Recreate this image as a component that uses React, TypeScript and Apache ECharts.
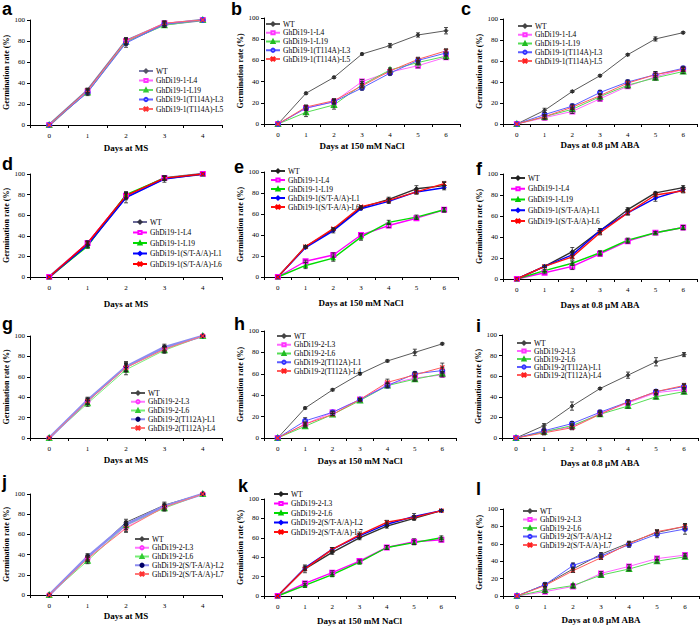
import React, { useEffect, useRef } from 'react';
import * as echarts from 'echarts';

// ---------- categories / tick labels ----------
const daysMS = ['0', '1', '2', '3', '4'];
const daysStress = ['0', '1', '2', '3', '4', '5', '6'];
const yTicks = [0, 20, 40, 60, 80, 100];

// ---------- series names ----------
const namesT114A = ['WT', 'GhDi19-1-L4', 'GhDi19-1-L19', 'GhDi19-1(T114A)-L3', 'GhDi19-1(T114A)-L5'];
const names1AA = ['WT', 'GhDi19-1-L4', 'GhDi19-1-L19', 'GhDi19-1(S/T-A/A)-L1', 'GhDi19-1(S/T-A/A)-L6'];
const namesT112A = ['WT', 'GhDi19-2-L3', 'GhDi19-2-L6', 'GhDi19-2(T112A)-L1', 'GhDi19-2(T112A)-L4'];
const names2AA = ['WT', 'GhDi19-2-L3', 'GhDi19-2-L6', 'GhDi19-2(S/T-A/A)-L2', 'GhDi19-2(S/T-A/A)-L7'];

const titleMS = 'Days at MS';
const titleNaCl = 'Days at 150 mM NaCl';
const titleABA = 'Days at 0.8 μM ABA';
const yTitle = 'Germination rate (%)';

// ---------- values (germination rate %, one row per series) ----------
const aRates = [
  [0, 33, 80, 96, 100],
  [0, 32, 80, 97, 100],
  [0, 31, 79, 95, 100],
  [0, 31, 78, 96, 100],
  [0, 33, 80, 97, 100],
];
const aErrs = [[0, 2, 3, 2, 0], [0, 2, 3, 2, 0], [0, 2, 3, 2, 0], [0, 3, 4, 3, 0], [0, 2, 3, 2, 0]];

const bRates = [
  [0, 29, 44, 66, 74, 84, 88],
  [0, 15, 21, 40, 49, 55, 63],
  [0, 11, 18, 37, 51, 58, 64],
  [0, 15, 21, 34, 48, 60, 67],
  [0, 16, 22, 36, 50, 61, 69],
];
const bErrs = [[0, 1, 1, 1, 2, 2, 3], [0, 2, 2, 2, 2, 2, 2], [0, 4, 4, 3, 2, 2, 3], [0, 2, 2, 2, 2, 2, 3], [0, 2, 2, 2, 2, 2, 2]];

const cRates = [
  [0, 13, 31, 46, 66, 81, 87],
  [0, 6, 12, 24, 36, 45, 52],
  [0, 7, 14, 26, 37, 44, 50],
  [0, 9, 17, 30, 40, 47, 53],
  [0, 7, 16, 27, 39, 47, 52],
];
const cErrs = [[0, 2, 1, 1, 1, 2, 1], [0, 2, 2, 2, 2, 3, 2], [0, 2, 2, 2, 2, 2, 2], [0, 2, 2, 2, 2, 3, 2], [0, 2, 2, 2, 2, 3, 2]];

const dRates = [
  [0, 32, 78, 96, 100],
  [0, 33, 79, 96, 100],
  [0, 30, 80, 96, 100],
  [0, 31, 77, 95, 100],
  [0, 33, 79, 96, 100],
];
const dErrs = [[0, 2, 3, 2, 0], [0, 2, 3, 2, 0], [0, 2, 3, 2, 0], [0, 2, 5, 3, 0], [0, 2, 3, 2, 0]];

const eRates = [
  [0, 29, 45, 66, 74, 84, 87],
  [0, 15, 21, 40, 49, 56, 64],
  [0, 11, 18, 38, 52, 57, 64],
  [0, 28, 44, 65, 72, 81, 85],
  [0, 29, 46, 67, 73, 81, 89],
];
const eErrs = [[0, 1, 1, 1, 2, 3, 3], [0, 1, 2, 1, 2, 1, 2], [0, 3, 3, 3, 2, 2, 2], [0, 1, 2, 1, 2, 2, 2], [0, 1, 1, 1, 2, 2, 2]];

const fRates = [
  [0, 12, 26, 46, 66, 82, 87],
  [0, 6, 12, 24, 36, 44, 49],
  [0, 8, 15, 25, 37, 44, 49],
  [0, 12, 23, 46, 63, 77, 85],
  [0, 12, 21, 44, 63, 80, 84],
];
const fErrs = [[0, 1, 4, 2, 2, 1, 2], [0, 1, 3, 2, 2, 1, 2], [0, 1, 2, 2, 2, 1, 2], [0, 1, 3, 2, 2, 3, 2], [0, 1, 3, 2, 2, 1, 2]];

const gRates = [
  [0, 36, 70, 88, 100],
  [0, 36, 69, 87, 100],
  [0, 34, 67, 86, 100],
  [0, 37, 70, 89, 100],
  [0, 36, 69, 87, 100],
];
const gErrs = [[0, 3, 5, 3, 0], [0, 3, 4, 3, 0], [0, 3, 5, 3, 0], [0, 3, 4, 3, 0], [0, 3, 4, 3, 0]];

const hRates = [
  [0, 28, 45, 60, 72, 80, 88],
  [0, 13, 24, 36, 50, 56, 59],
  [0, 11, 22, 35, 49, 55, 60],
  [0, 16, 24, 36, 49, 60, 63],
  [0, 13, 22, 36, 52, 59, 66],
];
const hErrs = [[0, 1, 1, 1, 1, 3, 1], [0, 2, 1, 1, 2, 2, 2], [0, 1, 1, 1, 2, 2, 2], [0, 3, 1, 1, 2, 2, 3], [0, 1, 1, 1, 3, 2, 4]];

const iRates = [
  [0, 12, 31, 48, 61, 74, 81],
  [0, 6, 11, 24, 34, 44, 47],
  [0, 6, 12, 23, 31, 40, 45],
  [0, 7, 14, 25, 35, 45, 50],
  [0, 5, 10, 23, 35, 45, 51],
];
const iErrs = [[0, 2, 4, 1, 3, 4, 2], [0, 2, 2, 2, 2, 2, 2], [0, 2, 2, 2, 2, 2, 2], [0, 2, 2, 2, 2, 2, 2], [0, 2, 2, 2, 2, 2, 2]];

const jRates = [
  [0, 37, 72, 89, 100],
  [0, 36, 67, 87, 100],
  [0, 34, 69, 86, 100],
  [0, 38, 70, 88, 100],
  [0, 36, 66, 87, 100],
];
const jErrs = [[0, 3, 3, 3, 0], [0, 3, 4, 3, 0], [0, 3, 4, 3, 0], [0, 3, 3, 3, 0], [0, 3, 4, 3, 0]];

const kRates = [
  [0, 28, 45, 60, 72, 80, 88],
  [0, 13, 24, 36, 50, 56, 58],
  [0, 11, 22, 35, 50, 55, 60],
  [0, 29, 48, 62, 74, 82, 88],
  [0, 28, 48, 63, 76, 81, 88],
];
const kErrs = [[0, 2, 2, 2, 2, 2, 1], [0, 2, 2, 1, 2, 3, 2], [0, 2, 2, 2, 2, 2, 2], [0, 2, 2, 2, 2, 3, 1], [0, 4, 2, 3, 2, 2, 1]];

const lRates = [
  [0, 13, 31, 48, 61, 73, 80],
  [0, 5, 11, 26, 34, 43, 47],
  [0, 7, 12, 24, 31, 40, 45],
  [0, 13, 35, 46, 59, 71, 77],
  [0, 12, 29, 44, 60, 74, 80],
];
const lErrs = [[0, 2, 2, 2, 2, 3, 3], [0, 2, 2, 2, 2, 2, 2], [0, 2, 2, 2, 2, 2, 2], [0, 2, 3, 2, 3, 4, 6], [0, 2, 2, 2, 2, 2, 3]];

// ---------- styles ----------
const X_SYMBOL = 'path://M0,1L1,0L5,4L9,0L10,1L6,5L10,9L9,10L5,6L1,10L0,9L4,5Z';
const SERIF = '"Liberation Serif", "Times New Roman", serif';

const palSoft = {
  line: ['#5a5a5a', '#ff66ff', '#55dd55', '#5c5cff', '#ff5c5c'],
  marker: ['#444444', '#ff33ff', '#22bb22', '#3333ff', '#ff2222'],
  width: [1, 1, 1, 1, 1],
  symbol: ['diamond', 'emptyRect', 'emptyTriangle', 'emptyCircle', X_SYMBOL],
};
const palSoftThickWT = {
  line: ['#7a7aa8', '#ff66ff', '#66dd66', '#6666ff', '#ff6666'],
  marker: ['#555566', '#ff33ff', '#33cc33', '#3333ff', '#ff3333'],
  width: [2.5, 1, 1, 1, 1],
  symbol: ['diamond', 'emptyRect', 'emptyTriangle', 'emptyCircle', X_SYMBOL],
};
const palStrongThickWT = {
  line: ['#6a6a98', '#ff00ff', '#00dd00', '#0000ff', '#ff0000'],
  marker: ['#333344', '#ff00ff', '#00cc00', '#0000ff', '#ff0000'],
  width: [2.5, 1.4, 1.4, 1.4, 1.4],
  symbol: ['diamond', 'emptyRect', 'triangle', 'diamond', X_SYMBOL],
};
const palStrong = {
  line: ['#303030', '#ff00ff', '#00dd00', '#0000ff', '#ff1111'],
  marker: ['#202020', '#ff00ff', '#00cc00', '#0000ff', '#ff0000'],
  width: [1.4, 1.4, 1.4, 1.4, 1.4],
  symbol: ['diamond', 'emptyRect', 'triangle', 'diamond', X_SYMBOL],
};
const palBlueThick = {
  line: ['#555555', '#ff77ff', '#77ee77', '#8c8cf0', '#ff7777'],
  marker: ['#444444', '#ff33ff', '#33cc33', '#000066', '#ff3333'],
  width: [1, 1, 1, 2.5, 1],
  symbol: ['diamond', 'emptyCircle', 'emptyTriangle', 'circle', X_SYMBOL],
};

// ---------- layout (grid: left, top, width, height) ----------
const panels = [
  { key: 'a', cats: daysMS, names: namesT114A, rates: aRates, errs: aErrs, xTitle: titleMS, pal: palSoftThickWT, grid: [30, 20, 192, 105], xGap: 18, yGap: 19, legend: [138, 67, 1.5], label: [2, 15] },
  { key: 'b', cats: daysStress, names: namesT114A, rates: bRates, errs: bErrs, xTitle: titleNaCl, pal: palSoft, grid: [264, 18, 196, 106], xGap: 17, yGap: 16, legend: [265, 20, 0.75], label: [231, 15] },
  { key: 'c', cats: daysStress, names: namesT114A, rates: cRates, errs: cErrs, xTitle: titleABA, pal: palSoft, grid: [503, 19, 194, 105], xGap: 16, yGap: 16, legend: [517, 22, 0.75], label: [461, 15] },
  { key: 'd', cats: daysMS, names: names1AA, rates: dRates, errs: dErrs, xTitle: titleMS, pal: palStrongThickWT, grid: [30, 174, 192, 103], xGap: 22, yGap: 20, legend: [132, 218, 2.5], label: [2, 170] },
  { key: 'e', cats: daysStress, names: names1AA, rates: eRates, errs: eErrs, xTitle: titleNaCl, pal: palStrong, grid: [264, 172, 194, 105], xGap: 21, yGap: 16, legend: [270, 167, 1], label: [234, 173] },
  { key: 'f', cats: daysStress, names: names1AA, rates: fRates, errs: fErrs, xTitle: titleABA, pal: palStrong, grid: [503, 174, 194, 105], xGap: 21, yGap: 16, legend: [510, 174, 2.75], label: [476, 175] },
  { key: 'g', cats: daysMS, names: namesT112A, rates: gRates, errs: gErrs, xTitle: titleMS, pal: palBlueThick, grid: [30, 336, 192, 102], xGap: 17, yGap: 19, legend: [130, 389, 0.75], label: [2, 330] },
  { key: 'h', cats: daysStress, names: namesT112A, rates: hRates, errs: hErrs, xTitle: titleNaCl, pal: palSoft, grid: [264, 331, 192, 107], xGap: 18, yGap: 16, legend: [276, 332, 0.75], label: [234, 330] },
  { key: 'i', cats: daysStress, names: namesT112A, rates: iRates, errs: iErrs, xTitle: titleABA, pal: palSoft, grid: [502, 335, 196, 103], xGap: 20, yGap: 17, legend: [516, 339, 0], label: [476, 332] },
  { key: 'j', cats: daysMS, names: names2AA, rates: jRates, errs: jErrs, xTitle: titleMS, pal: palBlueThick, grid: [30, 494, 192, 101], xGap: 16, yGap: 19, legend: [134, 535, 0.75], label: [2, 488] },
  { key: 'k', cats: daysStress, names: names2AA, rates: kRates, errs: kErrs, xTitle: titleNaCl, pal: palStrong, grid: [264, 499, 191, 97], xGap: 20, yGap: 15, legend: [273, 490, 1.5], label: [238, 492] },
  { key: 'l', cats: daysStress, names: names2AA, rates: lRates, errs: lErrs, xTitle: titleABA, pal: palSoft, grid: [503, 509, 196, 87], xGap: 19, yGap: 15, legend: [522, 507, 0.5], label: [476, 495] },
];

function buildOption() {
  const grid: any[] = [];
  const xAxis: any[] = [];
  const yAxis: any[] = [];
  const legend: any[] = [];
  const series: any[] = [];
  const graphic: any[] = [];

  panels.forEach((p, i) => {
    grid.push({ left: p.grid[0], top: p.grid[1], width: p.grid[2], height: p.grid[3], containLabel: false });
    xAxis.push({
      gridIndex: i,
      type: 'category',
      data: p.cats,
      boundaryGap: true,
      axisLine: { show: true, lineStyle: { color: '#000', width: 1 } },
      axisTick: { show: true, length: 3, lineStyle: { color: '#000' } },
      axisLabel: { fontSize: 7, fontFamily: SERIF, color: '#000', margin: 7 },
      splitLine: { show: false },
      name: p.xTitle,
      nameLocation: 'middle',
      nameGap: p.xGap,
      nameTextStyle: { fontFamily: SERIF, fontWeight: 'bold', fontSize: 9, color: '#000' },
    });
    yAxis.push({
      gridIndex: i,
      type: 'value',
      min: yTicks[0],
      max: yTicks[yTicks.length - 1],
      interval: yTicks[1] - yTicks[0],
      axisLine: { show: true, lineStyle: { color: '#000', width: 1 } },
      axisTick: { show: true, length: 3, lineStyle: { color: '#000' } },
      axisLabel: { fontSize: 7, fontFamily: SERIF, color: '#000', margin: 5 },
      splitLine: { show: false },
      name: yTitle,
      nameLocation: 'middle',
      nameGap: p.yGap,
      nameTextStyle: { fontFamily: SERIF, fontWeight: 'bold', fontSize: 8, color: '#000' },
    });
    legend.push({
      orient: 'vertical',
      left: p.legend[0],
      top: p.legend[1],
      itemGap: p.legend[2],
      itemWidth: 14,
      itemHeight: 4,
      padding: 0,
      data: p.names.map((n) => n + '#' + p.key),
      formatter: (name: string) => name.split('#')[0],
      textStyle: { fontFamily: SERIF, fontSize: 7.5, color: '#000', lineHeight: 8, padding: [0, 0, 0, -2] },
      selectedMode: false,
    });
    p.names.forEach((n, j) => {
      series.push({
        type: 'line',
        name: n + '#' + p.key,
        xAxisIndex: i,
        yAxisIndex: i,
        data: p.rates[j],
        symbol: p.pal.symbol[j],
        symbolSize: 4,
        showSymbol: true,
        lineStyle: { color: p.pal.line[j], width: p.pal.width[j] },
        itemStyle: { color: p.pal.marker[j], borderColor: p.pal.marker[j], borderWidth: 1 },
        emphasis: { disabled: true },
        z: 2,
      });
    });
    const errData: number[][] = [];
    p.rates.forEach((row, j) => {
      row.forEach((v, k) => {
        errData.push([k, v, p.errs[j][k]]);
      });
    });
    series.push({
      type: 'custom',
      name: 'err' + p.key,
      xAxisIndex: i,
      yAxisIndex: i,
      data: errData,
      encode: { x: 0, y: 1 },
      z: 3,
      silent: true,
      renderItem: (params: any, api: any) => {
        const x = api.value(0);
        const y = api.value(1);
        const e = api.value(2);
        if (!e) return null;
        const top = api.coord([x, y + e]);
        const bot = api.coord([x, y - e]);
        const cap = 2;
        const st = { stroke: '#222', lineWidth: 0.8 };
        return {
          type: 'group',
          children: [
            { type: 'line', shape: { x1: top[0], y1: top[1], x2: bot[0], y2: bot[1] }, style: st },
            { type: 'line', shape: { x1: top[0] - cap, y1: top[1], x2: top[0] + cap, y2: top[1] }, style: st },
            { type: 'line', shape: { x1: bot[0] - cap, y1: bot[1], x2: bot[0] + cap, y2: bot[1] }, style: st },
          ],
        };
      },
    });
    graphic.push({
      type: 'text',
      x: p.label[0],
      y: p.label[1] - 6,
      style: {
        text: p.key,
        fill: '#000',
        font: 'bold 18px "Liberation Sans", Arial, sans-serif',
        verticalAlign: 'middle',
        align: 'left',
      },
    });
  });

  return {
    animation: false,
    backgroundColor: '#ffffff',
    grid,
    xAxis,
    yAxis,
    legend,
    series,
    graphic,
  };
}

export default function App() {
  const ref = useRef<HTMLDivElement>(null);
  useEffect(() => {
    if (!ref.current) return;
    const chart = echarts.init(ref.current, undefined, { renderer: 'svg' });
    chart.setOption(buildOption() as any);
    return () => chart.dispose();
  }, []);
  return (
    <div
      ref={ref}
      style={{ position: 'absolute', left: 0, top: 0, width: 700, height: 627, background: '#fff' }}
    />
  );
}
